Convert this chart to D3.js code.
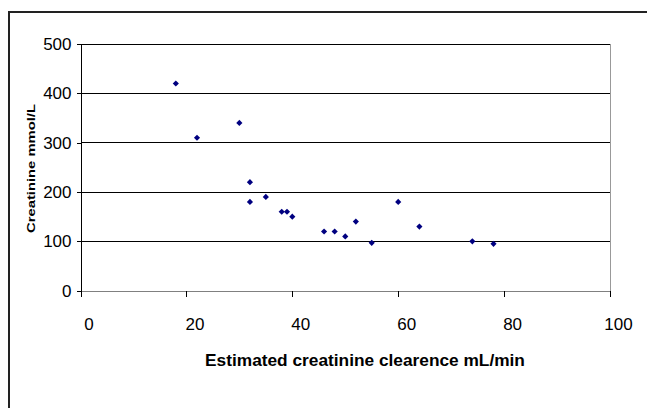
<!DOCTYPE html>
<html>
<head>
<meta charset="utf-8">
<script src="https://cdn.jsdelivr.net/npm/d3@7"></script>
<style>
  body { margin: 0; background: #fff; }
  text { font-family: Arial, "Liberation Sans", sans-serif; fill: #000; }
  .tick-label { font-size: 17px; }
  .axis-title { font-weight: bold; }
  line, .domain { shape-rendering: crispEdges; }
</style>
</head>
<body>
<div id="chart"></div>
<script>
// Values
const clearance = [18, 22, 30, 32, 32, 35, 38, 39, 40, 46, 48, 50, 52, 55, 60, 64, 74, 78];
const creatinine = [420, 310, 340, 220, 180, 190, 160, 160, 150, 120, 120, 110, 140, 97, 180, 130, 100, 95];
const xTicks = [0, 20, 40, 60, 80, 100];
const yTicks = [0, 100, 200, 300, 400, 500];
const xTitle = "Estimated creatinine clearence mL/min";
const yTitle = "Creatinine mmol/L";

// Dimensions of the page and of the plot area
const W = 647, H = 408;
const plot = { left: 80.5, right: 610, top: 44, bottom: 290.7 };

const svg = d3.select("#chart")
  .append("svg")
  .attr("width", W)
  .attr("height", H);

// Outer chart border (runs off the right and bottom of the picture)
svg.append("rect")
  .attr("x", 9)
  .attr("y", 12)
  .attr("width", W)
  .attr("height", H)
  .attr("fill", "none")
  .attr("stroke", "#222")
  .attr("stroke-width", 2);

const x = d3.scaleLinear().domain([0, 100]).range([plot.left, plot.right]);
const y = d3.scaleLinear().domain([0, 500]).range([plot.bottom, plot.top]);

// Horizontal gridlines
svg.selectAll(".grid")
  .data(yTicks.filter(d => d > 0))
  .enter().append("line")
  .attr("class", "grid")
  .attr("x1", plot.left)
  .attr("x2", plot.right)
  .attr("y1", d => y(d))
  .attr("y2", d => y(d))
  .attr("stroke", "#000")
  .attr("stroke-width", 1);

// Right edge of the plot area
svg.append("line")
  .attr("x1", plot.right).attr("x2", plot.right)
  .attr("y1", plot.top).attr("y2", plot.bottom)
  .attr("stroke", "#999");

// Y axis
const yAxis = svg.append("g")
  .attr("transform", `translate(${plot.left},0)`)
  .call(d3.axisLeft(y).tickValues(yTicks).tickSize(4).tickPadding(5).tickFormat(d3.format("d")));
yAxis.select(".domain").attr("stroke", "#000");
yAxis.selectAll(".tick line").attr("stroke", "#000");
yAxis.selectAll(".tick text")
  .attr("class", "tick-label")
  .attr("font-family", null)
  .attr("font-size", null);

// X axis
const xAxis = svg.append("g")
  .attr("transform", `translate(0,${plot.bottom})`)
  .call(d3.axisBottom(x).tickValues(xTicks).tickSizeInner(6).tickSizeOuter(0).tickPadding(0).tickFormat(d3.format("d")));
xAxis.select(".domain").attr("stroke", "#808080");
xAxis.selectAll(".tick line").attr("stroke", "#000");
xAxis.selectAll(".tick text")
  .attr("class", "tick-label")
  .attr("font-family", null)
  .attr("font-size", null)
  .attr("dx", 8)
  .attr("dy", 0)
  .attr("y", 39);

// Data points as navy diamonds (squares turned 45 degrees)
svg.selectAll(".point")
  .data(clearance.map((c, i) => ({ c, v: creatinine[i] })))
  .enter().append("path")
  .attr("class", "point")
  .attr("d", d3.symbol().type(d3.symbolSquare).size(19))
  .attr("transform", d => `translate(${x(d.c)},${y(d.v)}) rotate(45)`)
  .attr("fill", "#000080");

// Axis titles
svg.append("text")
  .attr("class", "axis-title")
  .attr("x", 365)
  .attr("y", 366)
  .attr("text-anchor", "middle")
  .style("font-size", "17.3px")
  .text(xTitle);

svg.append("text")
  .attr("class", "axis-title")
  .attr("transform", "translate(35,168.5) scale(0.8,1) rotate(-90)")
  .attr("text-anchor", "middle")
  .style("font-size", "14.8px")
  .text(yTitle);
</script>
</body>
</html>
